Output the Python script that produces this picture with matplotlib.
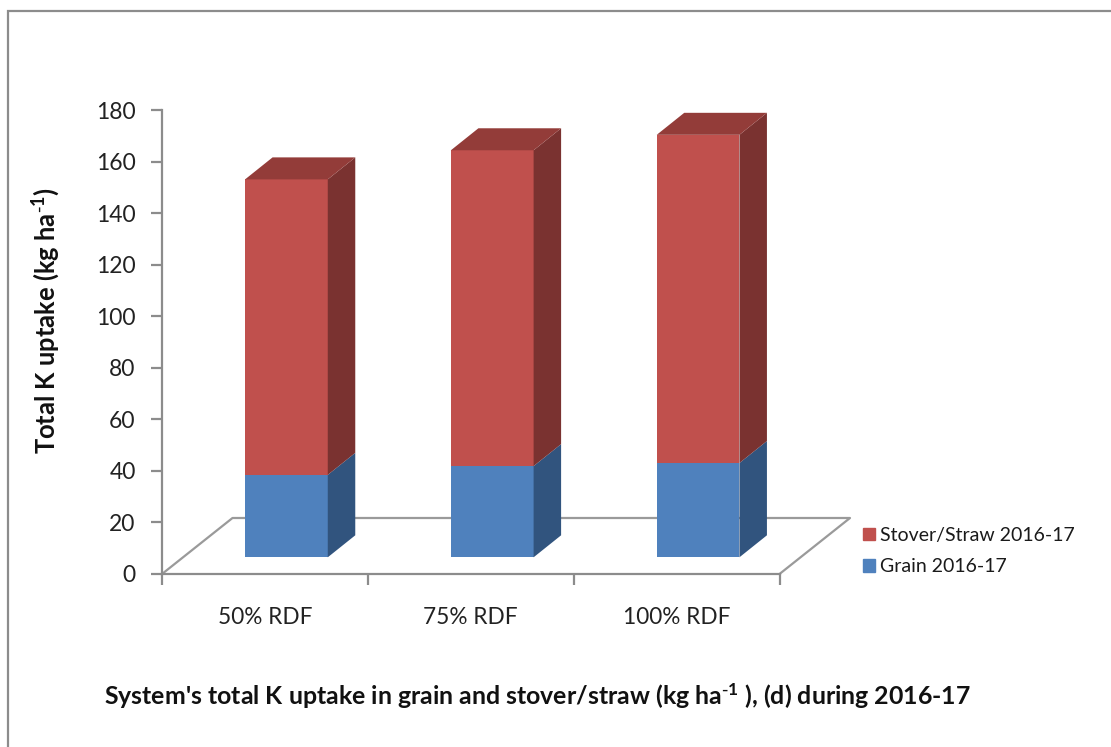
import matplotlib
matplotlib.use("Agg")
import matplotlib.pyplot as plt
from matplotlib.patches import Patch, Rectangle

categories = ["50% RDF", "75% RDF", "100% RDF"]
grain = [32.0, 35.4, 36.6]
stover = [114.7, 122.6, 127.4]
y_ticks = [0, 20, 40, 60, 80, 100, 120, 140, 160, 180]

W, H = 1111, 747
plt.rcParams["font.family"] = ["Lato", "DejaVu Sans"]
plt.rcParams["mathtext.default"] = "regular"

fig = plt.figure(figsize=(W / 100, H / 100), dpi=100)
left, right, top, bottom = 162, 779.5, 110.3, 574
ax = fig.add_axes([left / W, 1 - bottom / H, (right - left) / W, (bottom - top) / H])
ax.set_xlim(0, 3)
ax.set_ylim(0, 180)

# pixel sizes of one data unit, used for the fake 3d offsets
ux = (right - left) / 3
uy = (bottom - top) / 180
floor_dx, floor_dy = 70.5 / ux, 56 / uy
depth_dx, depth_dy = 27.5 / ux, 22 / uy
shift_dx, shift_dy = 21.5 / ux, 16.7 / uy
bar_w = 82.7 / ux

grey = "#8c8c8c"
# floor
ax.plot([0, floor_dx, 3 + floor_dx, 3], [0, floor_dy, floor_dy, 0],
        color="#9a9a9a", lw=1.6, clip_on=False, zorder=1)

front = ["#4F81BD", "#C0504D"]
side = ["#31547E", "#7A3230"]
top_col = "#933C39"

for i in range(3):
    x0 = i + 0.5 - bar_w / 2 + shift_dx
    x1 = x0 + bar_w
    base = shift_dy
    for vals, fc, sc in [(grain, front[0], side[0]), (stover, front[1], side[1])]:
        h = vals[i]
        ax.bar(x0, h, width=bar_w, bottom=base, align="edge", color=fc,
               clip_on=False, zorder=3)
        ax.fill([x1, x1 + depth_dx, x1 + depth_dx, x1],
                [base, base + depth_dy, base + h + depth_dy, base + h],
                color=sc, lw=0, clip_on=False, zorder=3)
        base += h
    ax.fill([x0, x1, x1 + depth_dx, x0 + depth_dx],
            [base, base, base + depth_dy, base + depth_dy],
            color=top_col, lw=0, clip_on=False, zorder=3)

for s in ["top", "right"]:
    ax.spines[s].set_visible(False)
for s in ["left", "bottom"]:
    ax.spines[s].set_color(grey)
    ax.spines[s].set_linewidth(1.6)

ax.set_yticks(y_ticks)
ax.tick_params(axis="y", length=8, width=1.6, color=grey, labelsize=16.5, pad=11,
               labelcolor="#222222")
ax.set_xticks([0, 1, 2, 3], labels=[])
ax.tick_params(axis="x", length=8, width=1.6, color=grey)
ax.set_xticks([0.5, 1.5, 2.5], labels=categories, minor=True)
ax.tick_params(axis="x", which="minor", length=0, labelsize=16.3, pad=24,
               labelcolor="#222222")

fig.text(46.5 / W, 1 - 321 / H, r"Total K uptake (kg ha$^{\text{-}1}$)", rotation=90,
         ha="center", va="center", fontsize=18.4, fontweight="bold", color="#111111")
fig.text(537 / W, 1 - 696 / H,
         r"System's total K uptake in grain and stover/straw (kg ha$^{\text{-}1}$ ), (d) during 2016-17",
         ha="center", va="center", fontsize=17.9, fontweight="bold", color="#111111")

handles = [Patch(color=front[1], label="Stover/Straw 2016-17"),
           Patch(color=front[0], label="Grain 2016-17")]
fig.legend(handles=handles, loc="center left", bbox_to_anchor=(857 / W, 1 - 551 / H),
           frameon=False, fontsize=14, handlelength=0.6, handleheight=0.6,
           handletextpad=0.3, labelspacing=0.74, borderpad=0.3, borderaxespad=0,
           labelcolor="#1a1a1a")

fig.add_artist(Rectangle((7.5 / W, -0.01), 1.1, 1 - 10.5 / H + 0.01,
                         transform=fig.transFigure, fill=False, ec="#8c8c8c", lw=1.6))

fig.savefig("out.png", dpi=100)
